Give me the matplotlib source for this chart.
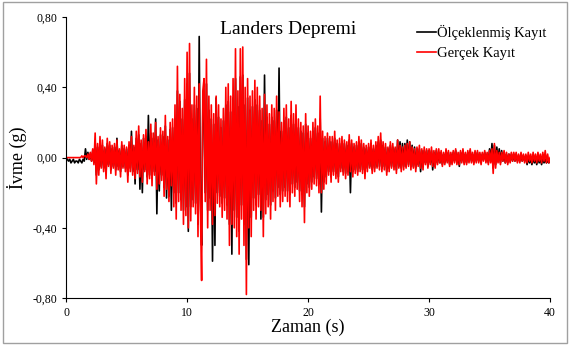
import numpy as np
import matplotlib
matplotlib.use("Agg")
import matplotlib.pyplot as plt
from matplotlib.patches import Rectangle
from matplotlib.ticker import FuncFormatter

plt.rcParams['font.family'] = ['Liberation Serif', 'DejaVu Serif']

# ivme degerleri (0.01 g), 0.1 s aralikla, her satir 1 s
olcekli = [
    0, -1, -2, -1, -3, -2, -1, -3, -2, -2,
    -3, -1, -2, -3, -1, -2, 5, -1, 3, -1,
    2, -2, 4, -3, 9, -10, 6, -7, 8, -5,
    7, -6, 5, -9, 8, -4, 7, -7, 5, -5,
    6, -7, 11, -5, 4, -8, 7, -5, 5, -6,
    5, -10, 7, -6, 15, -8, 6, -15, 11, -7,
    13, -18, 8, -20, 11, -7, 12, -11, 24, -10,
    14, -12, 11, -8, 22, -32, 10, -19, 13, -10,
    12, -17, 18, -23, 10, -22, 16, -30, 17, -20,
    22, -26, 38, -20, 32, -24, 22, -30, 33, -28,
    42, -42, 48, -28, 22, -24, 30, -26, 28, -38,
    69, -24, -50, 28, 34, -20, 42, -30, 27, -23,
    22, -59, 19, -50, 34, -20, 23, -22, 17, -26,
    21, -23, 30, -27, 32, -38, 26, -55, 34, -30,
    45, -34, 29, -42, 46, -27, 47, -38, 30, -58,
    34, -61, 27, -34, 29, -23, 33, -27, 30, -21,
    27, -35, 21, -34, 47, -24, 23, -21, 19, -27,
    23, -19, 21, -23, 27, -17, 51, -21, 15, -19,
    21, -17, 23, -19, 17, -21, 24, -15, 19, -17,
    23, -14, 17, -19, 15, -21, 14, -28, 19, -15,
    14, -17, 11, -14, 15, -11, 17, -12, 14, -15,
    22, -31, 11, -14, 9, -11, 11, -8, 9, -11,
    9, -8, 11, -9, 8, -11, 8, -6, 9, -8,
    8, -9, 7, -8, 10, -20, 8, -8, 6, -7,
    7, -8, 9, -6, 8, -7, 6, -9, 5, -6,
    6, -5, 8, -7, 5, -6, 7, -5, 9, -5,
    10, -6, 7, -5, 6, -8, 5, -6, 7, -5,
    6, -5, 5, -7, 10, -5, 9, -6, 8, -5,
    8, -5, 10, -4, 9, -5, 7, -5, 6, -6,
    5, -4, 5, -8, 4, -5, 4, -3, 4, -5,
    4, -3, 4, -7, 3, -5, 4, -3, 3, -3,
    3, -4, 2, -3, 4, -2, 3, -4, 2, -3,
    3, -2, 4, -3, 2, -5, 3, -2, 4, -3,
    2, -3, 3, -2, 4, -2, 2, -3, 3, -2,
    3, -2, 2, -3, 2, -1, 3, -2, 2, -3,
    5, -2, 8, -6, 7, -4, 6, -2, 5, -3,
    4, -2, 3, -3, 2, -3, 2, -2, 2, -2,
    2, -2, 2, -2, 1, -2, 2, -2, 1, -2,
    1, -4, 0, -3, -1, -4, 0, -3, -1, -4,
    0, -3, -1, -4, 0, -3, -1, -3, -2, -3,
    -2,
]

gercek = [
    0, 0, 0, 0, 0, 0, 0, 0, 0, 0,
    0, 0, 0, 1, 0, 1, 1, 0, 2, -1,
    3, -2, 5, -4, 14, -15, 8, -10, 12, -6,
    10, -8, 6, -12, 11, -5, 9, -9, 7, -6,
    8, -10, 10, -7, 5, -11, 9, -6, 7, -8,
    6, -14, 9, -8, 12, -10, 7, -12, 15, -9,
    18, -11, 10, -14, 13, -8, 16, -15, 9, -12,
    19, -16, 14, -10, 20, -18, 12, -15, 17, -13,
    15, -22, 24, -18, 12, -25, 20, -16, 22, -28,
    30, -35, 52, -25, 36, -30, 28, -38, 45, -33,
    60, -40, 65, -36, 30, -28, 40, -32, 35, -45,
    42, -30, -70, 38, 45, -25, 56, -40, 35, -30,
    30, -38, 25, -33, 35, -26, 30, -28, 22, -34,
    28, -30, 40, -35, 42, -50, 35, -38, 45, -40,
    62, -45, 38, -55, 62, -35, 63, -50, 40, -78,
    45, -40, 35, -45, 38, -30, 44, -35, 40, -28,
    35, -30, 28, -45, 36, -32, 30, -28, 25, -35,
    30, -25, 28, -30, 35, -22, 26, -28, 20, -25,
    28, -22, 30, -25, 22, -28, 32, -20, 25, -22,
    30, -18, 22, -25, 20, -28, 18, -37, 25, -20,
    18, -22, 15, -18, 20, -15, 22, -16, 18, -20,
    35, -20, 15, -18, 12, -15, 14, -10, 12, -14,
    12, -10, 15, -12, 10, -14, 11, -8, 12, -10,
    10, -12, 9, -10, 13, -8, 10, -11, 8, -9,
    9, -10, 12, -8, 10, -9, 8, -12, 7, -8,
    8, -6, 10, -9, 7, -8, 9, -6, 12, -7,
    14, -8, 9, -7, 8, -10, 6, -8, 9, -6,
    8, -7, 6, -9, 10, -6, 7, -8, 6, -7,
    7, -6, 8, -5, 9, -7, 6, -6, 5, -8,
    6, -5, 7, -6, 5, -7, 6, -4, 5, -6,
    5, -4, 6, -5, 4, -6, 5, -4, 5, -3,
    4, -5, 3, -4, 5, -3, 4, -5, 3, -4,
    4, -3, 5, -4, 3, -4, 4, -3, 5, -4,
    3, -4, 4, -3, 5, -3, 3, -4, 4, -3,
    4, -3, 3, -4, 3, -2, 4, -3, 3, -4,
    4, -3, 5, -9, 8, -6, 4, -3, 3, -4,
    3, -2, 4, -3, 3, -4, 2, -3, 3, -2,
    3, -2, 3, -3, 2, -3, 3, -2, 2, -3,
    2, -3, 3, -2, 2, -3, 3, -2, 2, -3,
    3, -2, 2, -3, 3, -2, 4, -3, 2, -3,
    0,
]

zaman = np.arange(len(gercek)) * 0.1
yticks = [-0.8, -0.4, 0.0, 0.4, 0.8]

fig = plt.figure(figsize=(5.70, 3.51), dpi=100)
fig.patches.append(Rectangle((0.006, 0.022), 0.988, 0.972, transform=fig.transFigure,
                             fill=False, edgecolor='#a0a0a0', linewidth=1.0))
ax = fig.add_axes([0.116, 0.151, 0.849, 0.80])

ax.plot(zaman, np.array(olcekli) / 100, color='black', lw=1.2, label='Ölçeklenmiş Kayıt')
ax.plot(zaman, np.array(gercek) / 100, color='#ff0000', lw=1.2, label='Gerçek Kayıt')

ax.set_xlim(0, 40)
ax.set_ylim(-0.8, 0.8)
ax.set_xticks([0, 10, 20, 30, 40])
ax.set_yticks(yticks)
ax.yaxis.set_major_formatter(FuncFormatter(lambda v, p: f"{v:.2f}".replace('.', ',')))
ax.tick_params(labelsize=8.5, length=3, direction='out')
for s in ['top', 'right']:
    ax.spines[s].set_visible(False)

ax.set_xlabel('Zaman (s)', fontsize=13, labelpad=0)
ax.set_ylabel('İvme (g)', fontsize=13, labelpad=4)
ax.text(0.459, 0.985, 'Landers Depremi', transform=ax.transAxes, ha='center', va='top', fontsize=14)
ax.legend(loc='upper right', bbox_to_anchor=(1.02, 1.02), frameon=False, fontsize=10.5,
          handlelength=1.3, handletextpad=0.1, labelspacing=0.5)

fig.savefig('out.png', dpi=100)
